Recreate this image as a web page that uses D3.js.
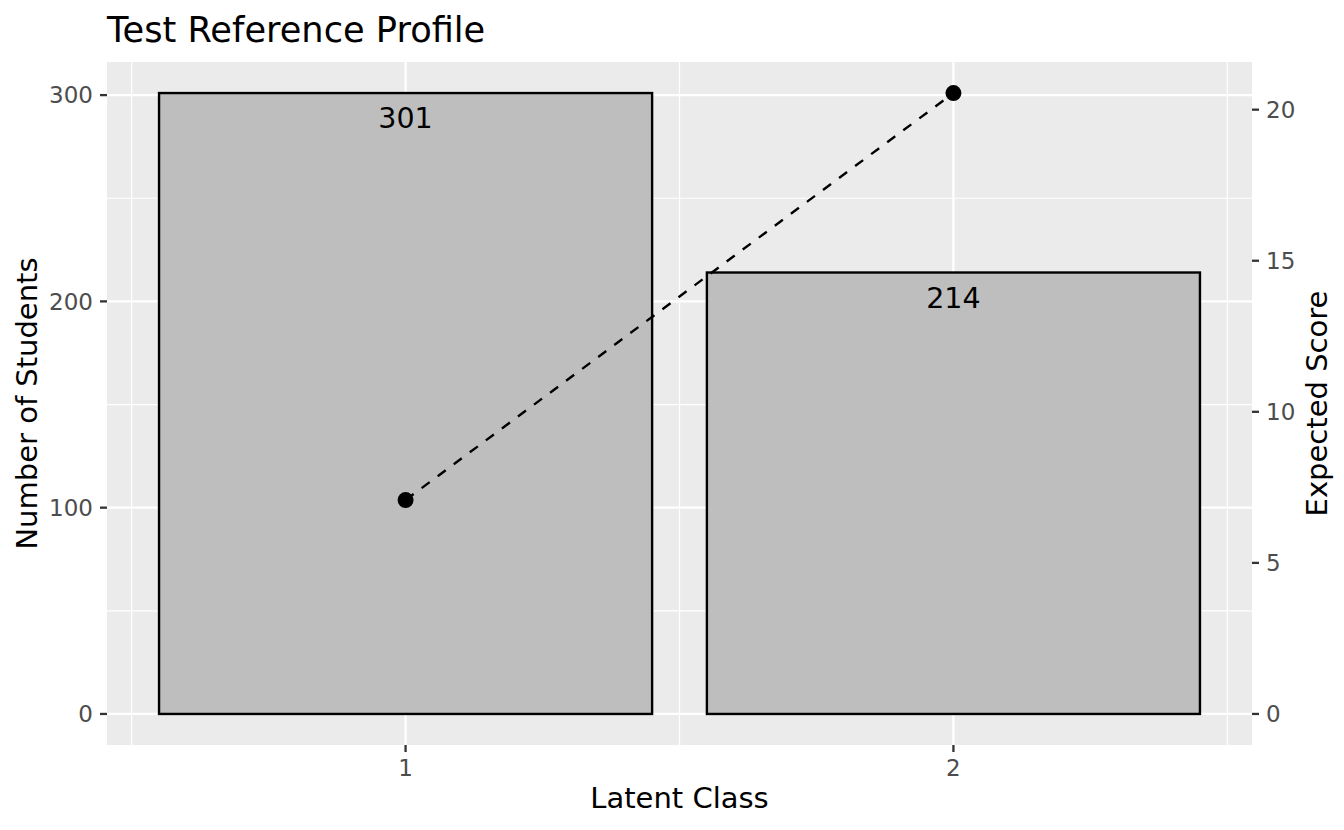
<!DOCTYPE html>
<html><head><meta charset="utf-8">
<script src="https://cdn.jsdelivr.net/npm/d3@7"></script>
<style>body{margin:0;background:#fff;} text{font-family:"DejaVu Sans",sans-serif;}</style>
</head><body><svg id="c" width="1344" height="830"></svg>
<script>
const classes = [1, 2];
const students = [301, 214];
const expectedScore = [7.08, 20.55];
const leftTicks = [0, 100, 200, 300];
const leftMinor = [50, 150, 250];
const rightTicks = [0, 5, 10, 15, 20];
const titleText = "Test Reference Profile";

const svg = d3.select("#c");
const P = {l:107, r:1252, t:62, b:745};
const ratio = d3.max(students) / d3.max(expectedScore);
const yMax = d3.max(students);
const x = d3.scaleLinear().domain([0.455, 2.545]).range([P.l, P.r]);
const y = d3.scaleLinear().domain([-0.05*yMax, 1.05*yMax]).range([P.b, P.t]);
const y2 = d3.scaleLinear().domain([-0.05*yMax/ratio, 1.05*yMax/ratio]).range([P.b, P.t]);

svg.append("rect").attr("x",P.l).attr("y",P.t).attr("width",P.r-P.l).attr("height",P.b-P.t).attr("fill","#ebebeb");
const g = svg.append("g");
// minor grid
[0.5,1.5,2.5].forEach(v=>g.append("line").attr("x1",x(v)).attr("x2",x(v)).attr("y1",P.t).attr("y2",P.b).attr("stroke","#fff").attr("stroke-width",1.2));
leftMinor.forEach(v=>g.append("line").attr("y1",y(v)).attr("y2",y(v)).attr("x1",P.l).attr("x2",P.r).attr("stroke","#fff").attr("stroke-width",1.2));
// major grid
classes.forEach(v=>g.append("line").attr("x1",x(v)).attr("x2",x(v)).attr("y1",P.t).attr("y2",P.b).attr("stroke","#fff").attr("stroke-width",2.3));
leftTicks.forEach(v=>g.append("line").attr("y1",y(v)).attr("y2",y(v)).attr("x1",P.l).attr("x2",P.r).attr("stroke","#fff").attr("stroke-width",2.3));

// bars
svg.selectAll(".bar").data(classes).enter().append("rect")
  .attr("x",d=>x(d-0.45)).attr("width",d=>x(d+0.45)-x(d-0.45))
  .attr("y",(d,i)=>y(students[i])).attr("height",(d,i)=>y(0)-y(students[i]))
  .attr("fill","#bebebe").attr("stroke","#000").attr("stroke-width",2.4);
svg.selectAll(".lab").data(classes).enter().append("text")
  .attr("x",d=>x(d)).attr("y",(d,i)=>y(students[i])+35)
  .attr("text-anchor","middle").attr("font-size",28.5).attr("fill","#000")
  .text((d,i)=>students[i]);

// line + points
const pts = classes.map((c,i)=>[x(c), y2(expectedScore[i])]);
svg.append("path").attr("d", d3.line()(pts)).attr("fill","none").attr("stroke","#000").attr("stroke-width",2.4).attr("stroke-dasharray","10,10");
svg.selectAll(".pt").data(pts).enter().append("circle").attr("cx",d=>d[0]).attr("cy",d=>d[1]).attr("r",8).attr("fill","#000");

// axes
const tickC = "#333", labC = "#4d4d4d";
const ax = svg.append("g");
leftTicks.forEach(v=>{
  ax.append("line").attr("x1",P.l-7).attr("x2",P.l).attr("y1",y(v)).attr("y2",y(v)).attr("stroke",tickC).attr("stroke-width",2.3);
  ax.append("text").attr("x",P.l-14).attr("y",y(v)).attr("dy","0.36em").attr("text-anchor","end").attr("font-size",23).attr("fill",labC).text(v);
});
rightTicks.forEach(v=>{
  ax.append("line").attr("x1",P.r).attr("x2",P.r+7).attr("y1",y2(v)).attr("y2",y2(v)).attr("stroke",tickC).attr("stroke-width",2.3);
  ax.append("text").attr("x",P.r+14).attr("y",y2(v)).attr("dy","0.36em").attr("text-anchor","start").attr("font-size",23).attr("fill",labC).text(v);
});
classes.forEach(v=>{
  ax.append("line").attr("x1",x(v)).attr("x2",x(v)).attr("y1",P.b).attr("y2",P.b+7).attr("stroke",tickC).attr("stroke-width",2.3);
  ax.append("text").attr("x",x(v)).attr("y",P.b+31).attr("text-anchor","middle").attr("font-size",23).attr("fill",labC).text(v);
});
svg.append("text").attr("x",(P.l+P.r)/2).attr("y",808).attr("text-anchor","middle").attr("font-size",29).attr("fill","#000").text("Latent Class");
svg.append("text").attr("transform",`translate(37,${(P.t+P.b)/2}) rotate(-90)`).attr("text-anchor","middle").attr("font-size",29).attr("fill","#000").text("Number of Students");
svg.append("text").attr("transform",`translate(1327,${(P.t+P.b)/2}) rotate(-90)`).attr("text-anchor","middle").attr("font-size",29).attr("fill","#000").text("Expected Score");
svg.append("text").attr("x",P.l).attr("y",42).attr("font-size",35.2).attr("fill","#000").text(titleText);
</script></body></html>
